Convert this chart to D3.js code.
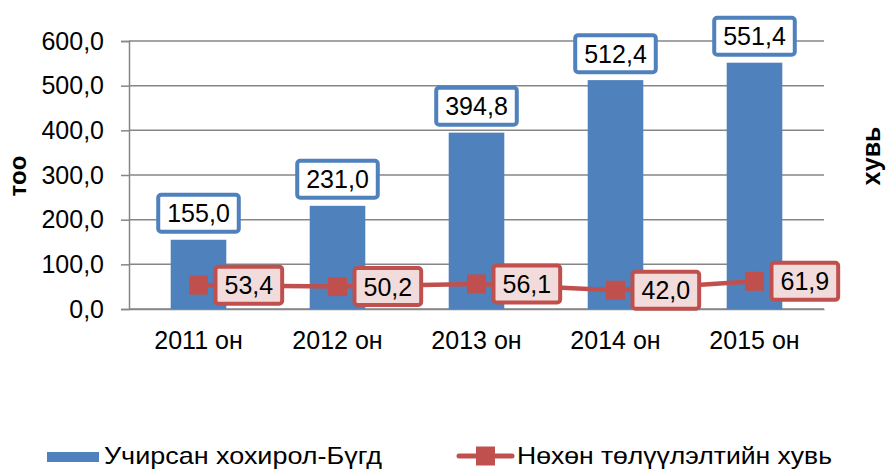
<!DOCTYPE html>
<html>
<head>
<meta charset="utf-8">
<script src="https://cdn.jsdelivr.net/npm/d3@7"></script>
<style>
  body { margin: 0; background: #fff; }
  text { font-family: "Liberation Sans", Arial, sans-serif; }
</style>
</head>
<body>
<script>
// categories and series
const years = ["2011 он", "2012 он", "2013 он", "2014 он", "2015 он"];
const losses = [155.0, 231.0, 394.8, 512.4, 551.4];
const recovered = [53.4, 50.2, 56.1, 42.0, 61.9];
const yTicks = [0, 100, 200, 300, 400, 500, 600];

const barName = "Учирсан хохирол-Бүгд";
const lineName = "Нөхөн төлүүлэлтийн хувь";

const w = 886, h = 470;
const plotL = 129, plotR = 824, plotT = 41, plotB = 309;
const blue = "#4F81BD", red = "#C0504D", grid = "#868686";
const fmt = (v) => v.toFixed(1).replace(".", ",");

const svg = d3.select("body").append("svg")
  .attr("width", w)
  .attr("height", h);

const x = d3.scaleBand()
  .domain(years)
  .range([plotL, plotR])
  .paddingInner(0.6)
  .paddingOuter(0.3);

const y = d3.scaleLinear()
  .domain([0, 600])
  .range([plotB, plotT]);

// gridlines
svg.append("g")
  .selectAll("line")
  .data(yTicks)
  .enter()
  .append("line")
  .attr("x1", plotL)
  .attr("x2", plotR)
  .attr("y1", (d) => y(d))
  .attr("y2", (d) => y(d))
  .attr("stroke", grid)
  .attr("stroke-width", 1.5);

// y axis
const yAxis = d3.axisLeft(y)
  .tickValues(yTicks)
  .tickFormat(fmt)
  .tickSize(8)
  .tickPadding(17);

const gy = svg.append("g")
  .attr("transform", "translate(" + plotL + ",0)")
  .call(yAxis);
gy.select(".domain").attr("stroke", grid).attr("stroke-width", 1.5);
gy.selectAll(".tick line").attr("stroke", grid).attr("stroke-width", 1.5);
gy.selectAll("text")
  .attr("font-size", 25)
  .attr("fill", "#000")
  .attr("font-family", "Liberation Sans, Arial, sans-serif");

// x axis
const xAxis = d3.axisBottom(x).tickSize(0).tickPadding(22);
const gx = svg.append("g")
  .attr("transform", "translate(0," + plotB + ")")
  .call(xAxis);
gx.select(".domain").attr("stroke", grid).attr("stroke-width", 1.5);
gx.selectAll("text")
  .attr("font-size", 25)
  .attr("fill", "#000")
  .attr("font-family", "Liberation Sans, Arial, sans-serif");

// bars
svg.selectAll("rect.bar")
  .data(losses)
  .enter()
  .append("rect")
  .attr("class", "bar")
  .attr("x", (d, i) => x(years[i]))
  .attr("y", (d) => y(d))
  .attr("width", x.bandwidth())
  .attr("height", (d) => plotB - y(d))
  .attr("fill", blue);

// line
const cx = (i) => x(years[i]) + x.bandwidth() / 2;
const line = d3.line()
  .x((d, i) => cx(i))
  .y((d) => y(d));

svg.append("path")
  .datum(recovered)
  .attr("d", line)
  .attr("fill", "none")
  .attr("stroke", red)
  .attr("stroke-width", 4.5)
  .attr("stroke-linejoin", "round");

svg.selectAll("rect.marker")
  .data(recovered)
  .enter()
  .append("rect")
  .attr("class", "marker")
  .attr("x", (d, i) => cx(i) - 9.5)
  .attr("y", (d) => y(d) - 9.5)
  .attr("width", 19)
  .attr("height", 19)
  .attr("fill", red);

// label boxes
function labelBox(g, txt, cxText, cyText, stroke, fill) {
  const t = g.append("text")
    .attr("x", cxText)
    .attr("y", cyText)
    .attr("dy", "0.36em")
    .attr("text-anchor", "middle")
    .attr("font-size", 25)
    .attr("fill", "#000")
    .text(txt);
  const tw = t.node().getComputedTextLength();
  const bw = tw + 18, bh = 37;
  g.insert("rect", "text")
    .attr("x", cxText - bw / 2)
    .attr("y", cyText - bh / 2)
    .attr("width", bw)
    .attr("height", bh)
    .attr("rx", 3)
    .attr("fill", fill)
    .attr("stroke", stroke)
    .attr("stroke-width", 4);
  return bw;
}

losses.forEach((d, i) => {
  const g = svg.append("g");
  labelBox(g, fmt(d), cx(i), y(d) - 6 - 20.5, blue, "#fff");
});

recovered.forEach((d, i) => {
  const g = svg.append("g");
  // measure first to place box to the right of the marker
  const tmp = svg.append("text").attr("font-size", 25).text(fmt(d));
  const tw = tmp.node().getComputedTextLength();
  tmp.remove();
  const bw = tw + 18;
  labelBox(g, fmt(d), cx(i) + 17 + bw / 2, y(d), red, "#F2DCDB");
});

// axis titles
svg.append("text")
  .attr("transform", "translate(26,176) rotate(-90)")
  .attr("text-anchor", "middle")
  .attr("font-size", 24)
  .attr("font-weight", "bold")
  .text("тоо");

svg.append("text")
  .attr("transform", "translate(880,156) rotate(-90)")
  .attr("text-anchor", "middle")
  .attr("font-size", 25)
  .attr("font-weight", "bold")
  .text("хувь");

// legend
const lg = svg.append("g");
lg.append("rect")
  .attr("x", 47).attr("y", 452)
  .attr("width", 52).attr("height", 10)
  .attr("fill", blue);
lg.append("text")
  .attr("x", 104).attr("y", 464)
  .attr("font-size", 24)
  .attr("textLength", 278)
  .attr("lengthAdjust", "spacingAndGlyphs")
  .text(barName);

lg.append("line")
  .attr("x1", 459).attr("x2", 512)
  .attr("y1", 456).attr("y2", 456)
  .attr("stroke", red)
  .attr("stroke-width", 5)
  .attr("stroke-linecap", "round");
lg.append("rect")
  .attr("x", 476).attr("y", 446.5)
  .attr("width", 19).attr("height", 19)
  .attr("fill", red);
lg.append("text")
  .attr("x", 517).attr("y", 464)
  .attr("font-size", 24)
  .attr("textLength", 315)
  .attr("lengthAdjust", "spacingAndGlyphs")
  .text(lineName);
</script>
</body>
</html>
